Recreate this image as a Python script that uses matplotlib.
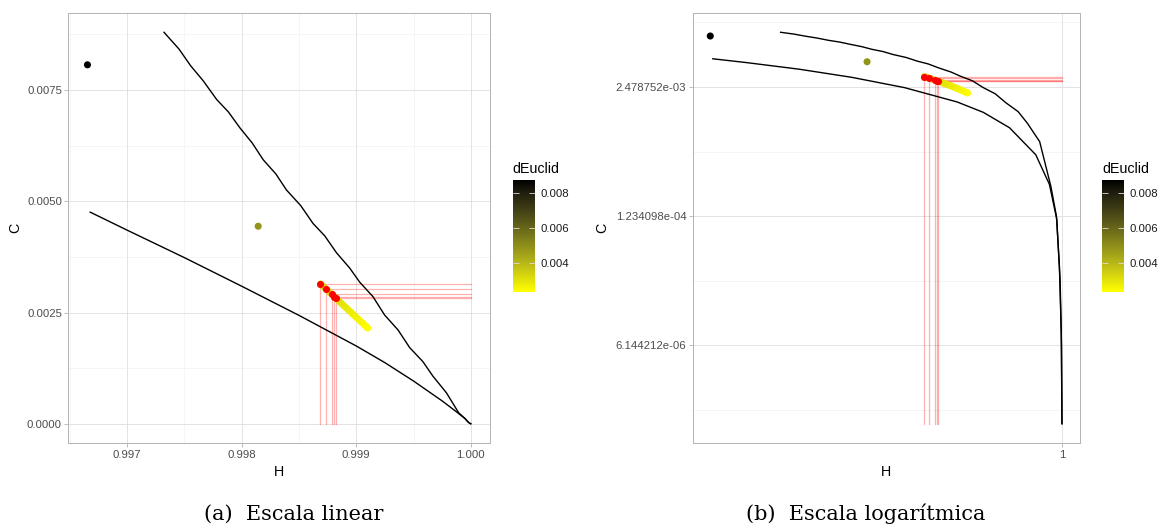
import numpy as np
import matplotlib.pyplot as plt
from matplotlib.colors import LinearSegmentedColormap, Normalize
from matplotlib.cm import ScalarMappable

plt.rcParams['font.family'] = ['Liberation Sans', 'DejaVu Sans']

# curva de complexidade maxima
hmax = [0.997322, 0.997453, 0.997555, 0.997665, 0.997781, 0.997883, 0.997985, 0.998092,
        0.998188, 0.998298, 0.998391, 0.998516, 0.998623, 0.998725, 0.998827, 0.998943,
        0.999030, 0.999146, 0.999248, 0.999364, 0.999466, 0.999582, 0.999669, 0.999787,
        0.999894, 0.999947, 0.999975, 0.999993, 0.9999995]
cmax = [0.008797, 0.008419, 0.008043, 0.007704, 0.007288, 0.007010, 0.006648, 0.006309,
        0.005932, 0.005615, 0.005253, 0.004900, 0.004500, 0.004222, 0.003844, 0.003498,
        0.003182, 0.002856, 0.002442, 0.002110, 0.001712, 0.001395, 0.001070, 0.000696,
        0.000246, 0.000123, 0.000039, 0.0000084, 0.0000010]

# curva de complexidade minima
hmin = [0.996678, 0.997000, 0.997500, 0.998000, 0.998500, 0.999000, 0.999250, 0.999500,
        0.999750, 0.999880, 0.999950, 0.999982, 0.999995, 0.9999995]
cmin = [0.004755, 0.004351, 0.003733, 0.003091, 0.002436, 0.001748, 0.001373, 0.000960,
        0.000513, 0.000258, 0.000115, 0.0000275, 0.0000061, 0.0000010]

# series no plano H x C
h_pts = [0.996654, 0.998144]
c_pts = [0.008066, 0.004439]
h_serie = [0.99869, 0.99871, 0.99873, 0.99875, 0.99877, 0.99879, 0.99881, 0.99883,
           0.99885, 0.99887, 0.99889, 0.99891, 0.99893, 0.99895, 0.99897, 0.99899,
           0.99901, 0.99903, 0.99905, 0.99907, 0.99909, 0.99910]
c_serie = [0.003140, 0.003092, 0.003044, 0.002995, 0.002947, 0.002899, 0.002851, 0.002803,
           0.002754, 0.002706, 0.002658, 0.002610, 0.002562, 0.002513, 0.002465, 0.002417,
           0.002369, 0.002321, 0.002272, 0.002224, 0.002176, 0.002152]
h_red = [0.998687, 0.998736, 0.998786, 0.998806, 0.998821]
c_red = [0.003149, 0.003021, 0.002908, 0.002856, 0.002824]

legenda = 'dEuclid'
titulos = ['(a)  Escala linear', '(b)  Escala logarítmica']

h_all = np.array(h_pts + h_serie)
c_all = np.array(c_pts + c_serie)
d_all = np.hypot(1 - h_all, c_all)  # distancia ao ponto (1, 0)
c_floor = min(min(cmax), min(cmin))

cmap = LinearSegmentedColormap.from_list('yb', [(0, '#FFFF00'), (0.25, '#B9B818'), (0.5, '#78771B'),
                                                (0.75, '#3D3B15'), (0.9, '#1D1B0C'), (1, '#000000')])
norm = Normalize(d_all.min(), d_all.max())

W, H = 1166, 529
fig = plt.figure(figsize=(W / 100, H / 100), dpi=100)


def painel(rect, crect, log=False):
    ax = fig.add_axes(rect)
    if log:
        ax.set_xscale('log')
        ax.set_yscale('log')
    for h, c in zip(h_red, c_red):
        ax.plot([h, 1], [c, c], color='red', alpha=0.3, lw=0.9, zorder=2)
        ax.plot([h, h], [c, c_floor], color='red', alpha=0.3, lw=0.9, zorder=2)
    ax.plot(hmax, cmax, color='black', lw=1.0, zorder=3)
    ax.plot(hmin, cmin, color='black', lw=1.0, zorder=3)
    ax.scatter(h_all[::-1], c_all[::-1], c=d_all[::-1], cmap=cmap, norm=norm, s=26, lw=0, zorder=4)
    ax.scatter(h_red, c_red, color='red', s=26, lw=0, zorder=5)

    for s in ax.spines.values():
        s.set_color('#B3B3B3')
        s.set_linewidth(0.7)
    ax.grid(True, which='major', color='#DEDEDE', lw=0.6)
    ax.grid(True, which='minor', color='#EEEEEE', lw=0.4)
    ax.set_axisbelow(True)
    ax.tick_params(which='major', length=2.6, width=0.6, color='#B3B3B3',
                   labelsize=8.2, labelcolor='#4D4D4D', pad=2)
    ax.tick_params(which='minor', length=0)

    # barra de cores
    cax = fig.add_axes(crect)
    cb = fig.colorbar(ScalarMappable(norm=norm, cmap=cmap), cax=cax)
    cb.outline.set_visible(False)
    cb.set_ticks([0.004, 0.006, 0.008])
    cb.set_ticklabels(['0.004', '0.006', '0.008'])
    cax.tick_params(direction='in', left=True, right=True, length=4, width=0.6,
                    color='#DDDDDD', labelsize=8.2, labelcolor='#1A1A1A', pad=4)
    fig.text(crect[0], crect[1] + crect[3] + 4 / H, legenda, fontsize=10.3, va='bottom')
    return ax


axl = painel([68.3 / W, 1 - 443.3 / H, 421.7 / W, 430.6 / H],
             [512.7 / W, 1 - 291.7 / H, 22.3 / W, 111.7 / H])
axl.set_xticks([0.997, 0.998, 0.999, 1.0])
axl.set_xticklabels(['0.997', '0.998', '0.999', '1.000'])
axl.set_xticks([0.9965, 0.9975, 0.9985, 0.9995], minor=True)
axl.set_yticks([0, 0.0025, 0.005, 0.0075])
axl.set_yticklabels(['0.0000', '0.0025', '0.0050', '0.0075'])
axl.set_yticks([0.00125, 0.00375, 0.00625, 0.00875], minor=True)
axl.set_xlabel('H', fontsize=10.3, va='center')
axl.set_ylabel('C', fontsize=10.3, va='center')
axl.xaxis.set_label_coords(0.5, -(471.7 - 443.3) / 430.6)
axl.yaxis.set_label_coords((15 - 68.3) / 421.7, 0.5)

axr = painel([692.7 / W, 1 - 443.3 / H, 386.9 / W, 430.6 / H],
             [1102 / W, 1 - 291.7 / H, 22.3 / W, 111.7 / H], log=True)
yt = np.exp([-6, -9, -12])
axr.set_yticks(yt)
axr.set_yticklabels([f'{v:e}' for v in yt])
axr.set_yticks(np.exp([-4.5, -7.5, -10.5, -13.5]), minor=True)
axr.yaxis.set_minor_formatter(plt.NullFormatter())
axr.set_xticks([1])
axr.set_xticklabels(['1'])
axr.xaxis.set_minor_locator(plt.NullLocator())
axr.set_xlabel('H', fontsize=10.3, va='center')
axr.set_ylabel('C', fontsize=10.3, va='center')
axr.xaxis.set_label_coords(0.5, -(471.7 - 443.3) / 430.6)
axr.yaxis.set_label_coords((602.5 - 692.7) / 386.9, 0.5)

fig.text(294 / W, 1 - 514 / H, titulos[0], family='DejaVu Serif', fontsize=15, ha='center', va='center')
fig.text(866 / W, 1 - 514 / H, titulos[1], family='DejaVu Serif', fontsize=15, ha='center', va='center')

fig.savefig('out.png', dpi=100)
